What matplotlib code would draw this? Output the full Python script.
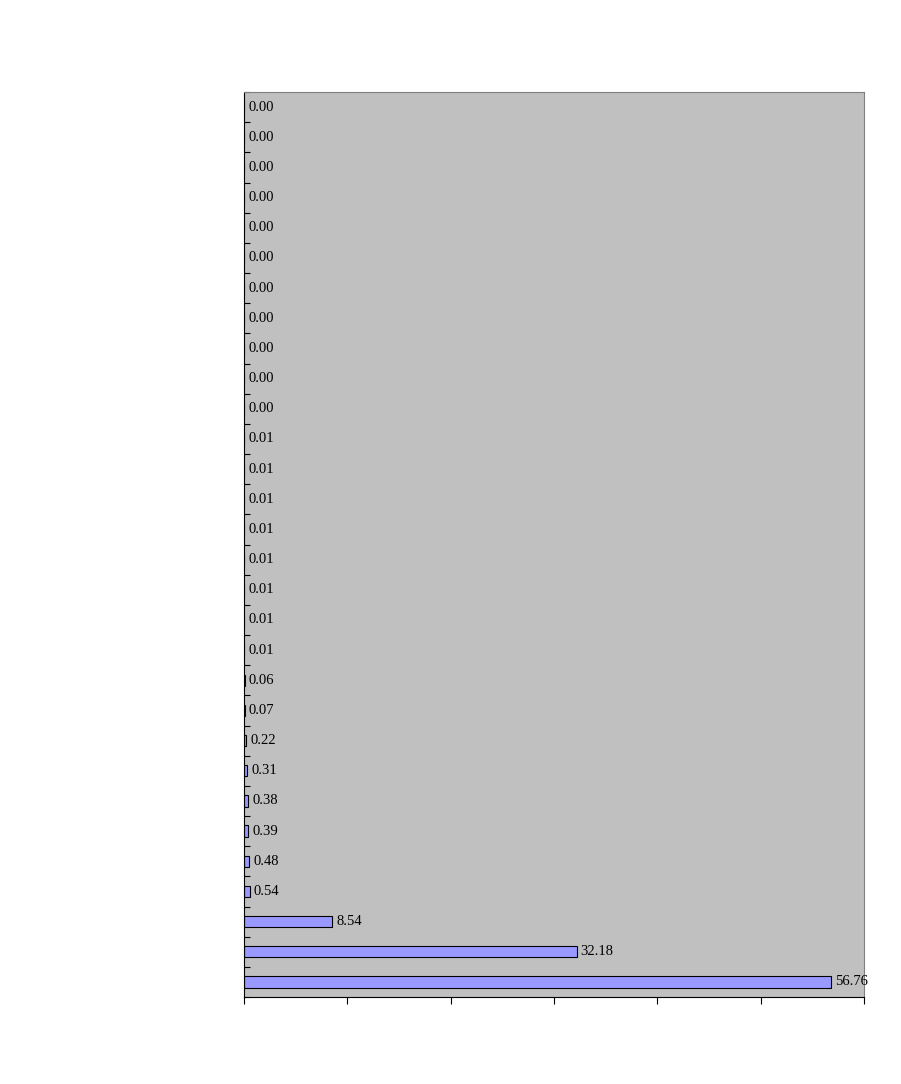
import matplotlib.pyplot as plt
import numpy as np

# values listed bottom to top
values = [56.76, 32.18, 8.54, 0.54, 0.48, 0.39, 0.38, 0.31, 0.22, 0.07, 0.06,
          0.01, 0.01, 0.01, 0.01, 0.01, 0.01, 0.01, 0.01,
          0.00, 0.00, 0.00, 0.00, 0.00, 0.00, 0.00, 0.00, 0.00, 0.00, 0.00]
labels = ["%.2f" % v for v in values]

W, H = 901, 1084
fig = plt.figure(figsize=(W / 100, H / 100), dpi=100)
ax = fig.add_axes([244 / W, 1 - 997 / H, (864 - 244) / W, (997 - 92) / H])
ax.set_facecolor("#c0c0c0")

y = np.arange(len(values))
ax.barh(y, values, height=0.38, color="#9999ff", edgecolor="black", linewidth=0.8)
for yi, v, lab in zip(y, values, labels):
    ax.text(v + 0.4, yi, lab, va="center", ha="left", fontsize=10.5,
            family="Liberation Serif")

ax.set_xlim(0, 60)
ax.set_ylim(-0.5, len(values) - 0.5)
ax.set_xticks(np.arange(0, 61, 10))
ax.set_xticklabels([])
ax.set_yticks(np.arange(-0.5, len(values), 1))
ax.set_yticklabels([])
ax.tick_params(axis="y", direction="in", length=4, width=0.8)
ax.tick_params(axis="x", direction="out", length=5, width=0.8)
for s in ax.spines.values():
    s.set_linewidth(0.8)
ax.spines["top"].set_color("#808080")
ax.spines["right"].set_color("#808080")

fig.savefig("out.png", dpi=100)
